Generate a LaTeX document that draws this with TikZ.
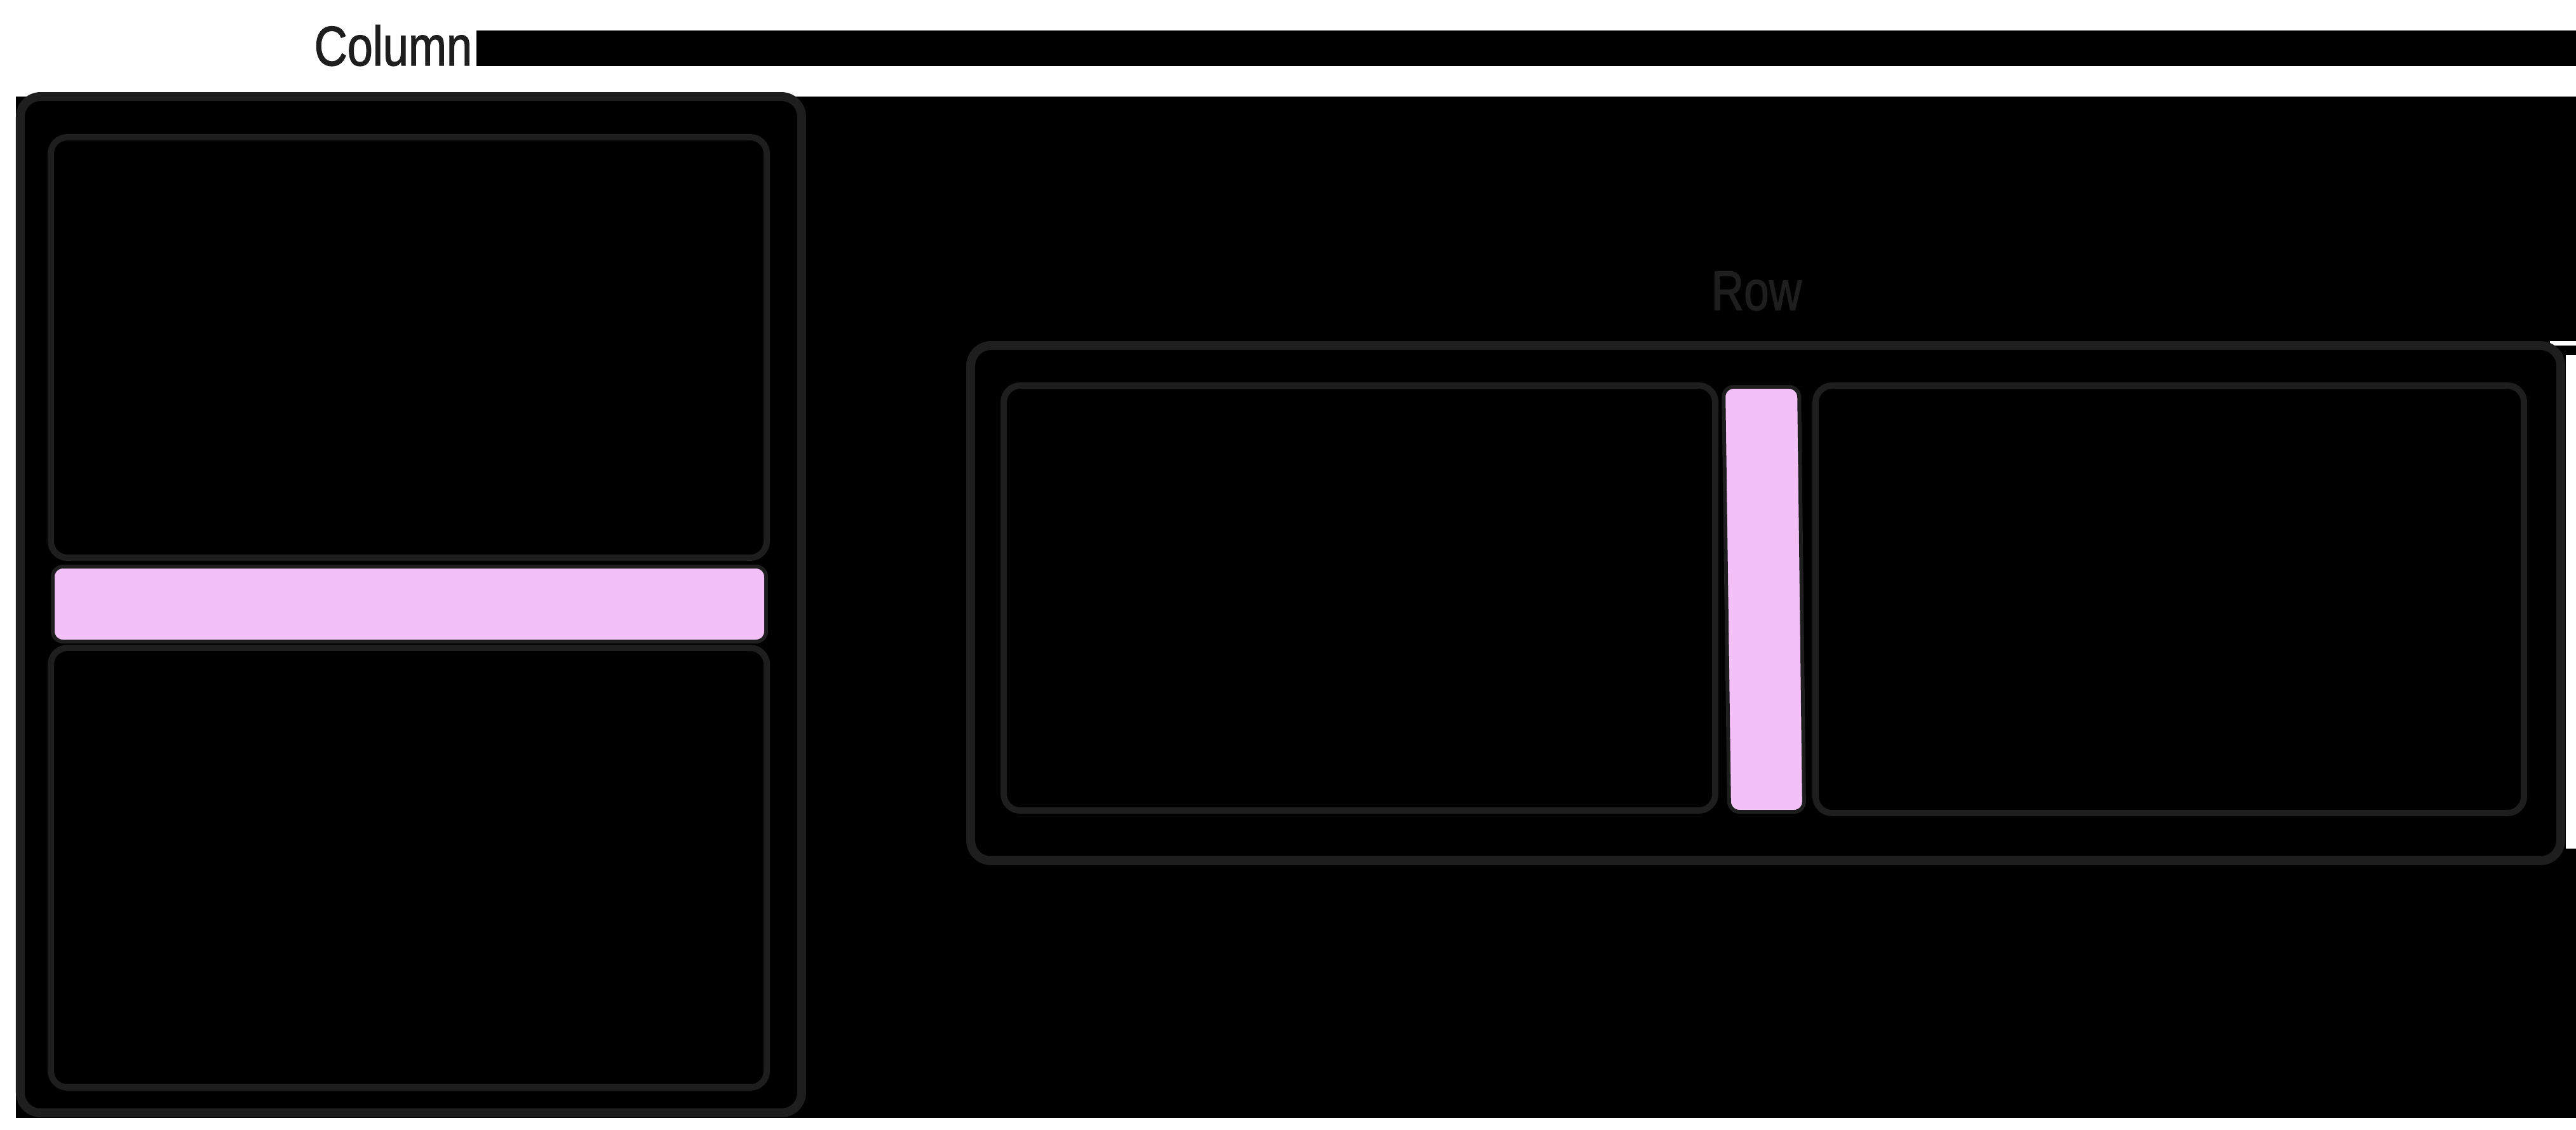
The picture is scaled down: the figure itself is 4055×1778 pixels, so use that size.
\documentclass[tikz,border=0pt]{standalone}
\usepackage{fontspec}
\setmainfont{Liberation Sans}
\newfontfamily\labelfont[FakeBold=1.6]{Liberation Sans}
\definecolor{ink}{HTML}{1E1E1E}
\definecolor{pinkfill}{HTML}{F3C1F8}
\begin{document}
\begin{tikzpicture}[x=0.01cm,y=-0.01cm,
  outerbox/.style={draw=ink,line width=0.14cm,rounded corners=0.32cm},
  innerbox/.style={draw=ink,line width=0.10cm,rounded corners=0.26cm},
  divider/.style={draw=ink,fill=pinkfill,line width=0.06cm,rounded corners=0.16cm},
  label/.style={text=ink,font=\labelfont\fontsize{25}{30}\selectfont,inner sep=0pt}
]
% page and backdrop regions
\fill[white] (0,0) rectangle (4055,1778);
\useasboundingbox (0,0) rectangle (4055,1778);
\fill[black] (750,48) rectangle (4055,104);
\fill[black] (25,152) rectangle (4055,1760);
\fill[white] (4014,537) rectangle (4055,544);
\fill[white] (4039,559) rectangle (4055,1336);

% Column group
\draw[outerbox] (32,152) rectangle (1262,1752);
\draw[innerbox] (80,216) rectangle (1207,878);
\draw[innerbox] (80,1020) rectangle (1207,1712);
\draw[divider] (83,892) rectangle (1206,1010);
\node[label,anchor=base west] (coltitle) at (494,103) {\scalebox{0.82}[1]{Column}};

% Row group
\draw[outerbox] (1528,544) rectangle (4031,1355);
\draw[innerbox] (1580,607) rectangle (2700,1276);
\draw[innerbox] (2858,607) rectangle (3973,1280);
\draw[divider] (2713,609) -- (2832,609) -- (2840,1278) -- (2722,1278) -- cycle;
\node[label,anchor=base west] (rowtitle) at (2693,488) {\scalebox{0.81}[1]{Row}};
\end{tikzpicture}
\end{document}
